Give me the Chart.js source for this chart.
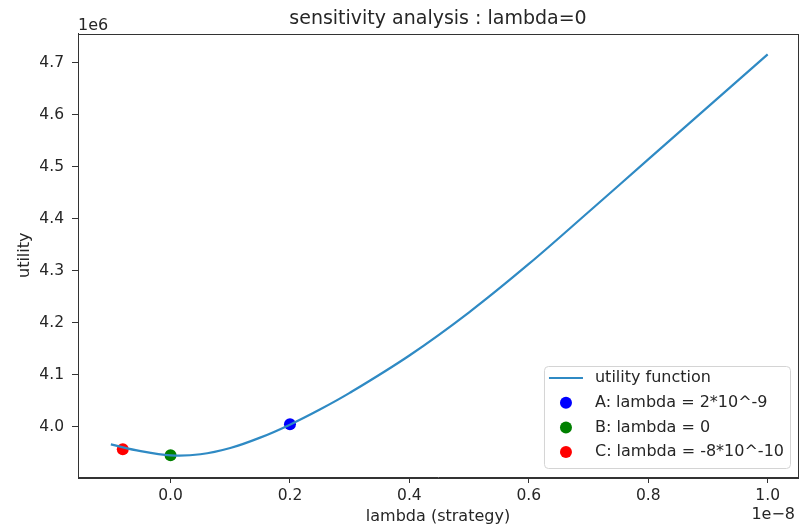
<!DOCTYPE html>
<html lang="en">
<head>
  <meta charset="UTF-8" />
  <title>sensitivity analysis</title>
  <style>
    html, body { margin: 0; padding: 0; background: #fff; }
    #wrap { width: 804px; height: 531px; }
  </style>
</head>
<body>
  <div id="wrap"><canvas id="chart" width="804" height="531"></canvas></div>
  <script src="https://cdn.jsdelivr.net/npm/chart.js"></script>
  <script>
    // lambda in units of 1e-8, utility in units of 1e6 (as the axes show)
    const lambdaE8 = [-0.1, -0.05, 0, 0.05, 0.1, 0.15, 0.2, 0.25, 0.3, 0.4, 0.5, 0.6, 0.7, 0.8, 0.9, 1.0];
    const utilityE6 = [3.966, 3.953, 3.945, 3.947, 3.959, 3.979, 4.004, 4.033, 4.065, 4.137, 4.220, 4.313, 4.413, 4.514, 4.615, 4.716];

    const markLabels = ['A: lambda = 2*10^-9', 'B: lambda = 0', 'C: lambda = -8*10^-10'];
    const markLambda = [0.2, 0, -0.08];
    const markUtility = [4.0046, 3.945, 3.9565];

    const xTicks = [0.0, 0.2, 0.4, 0.6, 0.8, 1.0];
    const yTicks = [4.0, 4.1, 4.2, 4.3, 4.4, 4.5, 4.6, 4.7];

    const FONT = 'DejaVu Sans';
    const TEXT = '#262626';
    const AXIS = '#333';
    const markColors = ['#0000ff', '#008000', '#ff0000'];

    const datasets = [{
      label: 'utility function',
      data: lambdaE8.map((x, i) => ({ x, y: utilityE6[i] })),
      showLine: true,
      borderColor: '#2f8ac4',
      borderWidth: 2.2,
      pointRadius: 0,
      tension: 0.35
    }];
    markLabels.forEach((label, i) => {
      datasets.push({
        label,
        data: [{ x: markLambda[i], y: markUtility[i] }],
        backgroundColor: markColors[i],
        borderColor: markColors[i],
        pointRadius: 6,
        borderWidth: 0
      });
    });

    // box around the plot, offset texts and the legend inside the axes
    const extras = {
      id: 'extras',
      afterDraw(chart) {
        const { ctx, chartArea: a } = chart;
        ctx.save();
        ctx.strokeStyle = AXIS;
        ctx.lineWidth = 1;
        ctx.strokeRect(Math.round(a.left) + 0.5, Math.round(a.top) + 0.5,
          Math.round(a.right - a.left), Math.round(a.bottom - a.top));

        ctx.fillStyle = TEXT;
        ctx.font = '16px "' + FONT + '"';
        ctx.textBaseline = 'alphabetic';
        ctx.textAlign = 'left';
        ctx.fillText('1e6', a.left, a.top - 4);
        ctx.textAlign = 'right';
        ctx.textBaseline = 'middle';
        ctx.fillText('1e\u22128', a.right - 3, 515);

        // legend
        const ds = chart.data.datasets;
        const maxW = Math.max(...ds.map(d => ctx.measureText(d.label).width));
        const boxW = 51 + maxW + 6;
        const rowH = 24.7;
        const boxH = 102;
        const bx = a.right - 8 - boxW;
        const by = a.bottom - 9 - boxH;
        ctx.beginPath();
        ctx.roundRect(bx + 0.5, by + 0.5, boxW, boxH, 4);
        ctx.fillStyle = 'rgba(255,255,255,0.8)';
        ctx.fill();
        ctx.strokeStyle = '#d4d4d4';
        ctx.stroke();

        ds.forEach((d, i) => {
          const cy = by + 12 + i * rowH;
          if (d.showLine) {
            ctx.beginPath();
            ctx.strokeStyle = d.borderColor;
            ctx.lineWidth = d.borderWidth;
            ctx.moveTo(bx + 5, cy);
            ctx.lineTo(bx + 39, cy);
            ctx.stroke();
          } else {
            ctx.beginPath();
            ctx.fillStyle = d.backgroundColor;
            ctx.arc(bx + 22, cy, 6, 0, Math.PI * 2);
            ctx.fill();
          }
          ctx.fillStyle = TEXT;
          ctx.textAlign = 'left';
          ctx.textBaseline = 'middle';
          ctx.fillText(d.label, bx + 51, cy);
        });
        ctx.restore();
      }
    };

    const tickFont = { family: FONT, size: 15.5 };

    new Chart(document.getElementById('chart'), {
      type: 'scatter',
      data: { datasets },
      plugins: [extras],
      options: {
        responsive: false,
        animation: false,
        events: [],
        layout: { padding: { left: 0, right: 3, top: 0, bottom: 0 } },
        plugins: {
          legend: { display: false },
          tooltip: { enabled: false },
          title: {
            display: true,
            fullSize: false,
            text: 'sensitivity analysis : lambda=0',
            color: TEXT,
            font: { family: FONT, size: 19, weight: 'normal', lineHeight: 1.2 },
            padding: { top: 7.8, bottom: 2.9 }
          }
        },
        scales: {
          x: {
            type: 'linear',
            min: -0.155,
            max: 1.0508,
            afterBuildTicks: s => { s.ticks = xTicks.map(v => ({ value: v })); },
            afterFit: s => { s.height = 54; },
            ticks: {
              color: TEXT,
              font: tickFont,
              padding: 4,
              maxRotation: 0,
              callback: v => v.toFixed(1)
            },
            grid: { drawOnChartArea: false, tickLength: 6, color: AXIS, tickWidth: 1 },
            border: { color: AXIS, width: 1 },
            title: {
              display: true,
              text: 'lambda (strategy)',
              color: TEXT,
              font: { family: FONT, size: 16, lineHeight: 1.2 },
              padding: { top: 0, bottom: 4.4 }
            }
          },
          y: {
            type: 'linear',
            min: 3.9033,
            max: 4.7562,
            afterBuildTicks: s => { s.ticks = yTicks.map(v => ({ value: v })); },
            afterFit: s => { s.width = 78; },
            ticks: {
              color: TEXT,
              font: tickFont,
              padding: 8,
              callback: v => v.toFixed(1)
            },
            grid: { drawOnChartArea: false, tickLength: 6, color: AXIS, tickWidth: 1 },
            border: { color: AXIS, width: 1 },
            title: {
              display: true,
              text: 'utility',
              color: TEXT,
              font: { family: FONT, size: 16, lineHeight: 1.2 },
              padding: { top: 15.4, bottom: 0 }
            }
          }
        }
      }
    });
  </script>
</body>
</html>
